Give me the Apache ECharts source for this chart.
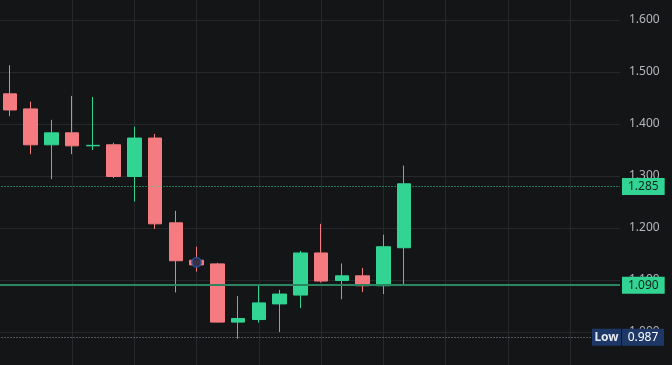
<!DOCTYPE html>
<html>
<head>
<meta charset="utf-8">
<style>
html,body{margin:0;padding:0;background:#141517;}
#c{width:672px;height:365px;}
</style>
<script src="https://cdn.jsdelivr.net/npm/echarts@6/dist/echarts.min.js"></script>
</head>
<body>
<div id="c"></div>
<script>
// Candle index positions
const indices = [0,1,2,3,4,5,6,7,8,9,10,11,12,13,14,15,16,17,18,19];
const opens  = [1.458,1.429,1.360,1.383,1.358,1.360,1.299,1.373,1.210,1.138,1.131,1.019,1.024,1.054,1.071,1.152,1.099,1.108,1.089,1.162];
const closes = [1.427,1.360,1.383,1.358,1.359,1.299,1.373,1.208,1.137,1.129,1.019,1.026,1.056,1.073,1.152,1.098,1.108,1.089,1.164,1.285];
const lows   = [1.415,1.342,1.294,1.342,1.350,1.296,1.251,1.198,1.076,1.116,1.018,0.987,1.018,1.000,1.046,1.095,1.063,1.077,1.073,1.092];
const highs  = [1.513,1.443,1.408,1.454,1.452,1.364,1.395,1.381,1.233,1.164,1.133,1.069,1.092,1.081,1.156,1.208,1.132,1.123,1.187,1.320];
const yTicks = [0.9,1.0,1.1,1.2,1.3,1.4,1.5,1.6,1.7];
const lastPrice = 1.285;
const refPrice = 1.090;
const lowPrice = 0.987;
const markerIndex = 9;
const markerValue = 1.134;

const GREEN = '#31d492';
const RED = '#f47b7f';
const GRIDC = '#26282c';

const candleData = indices.map((x, i) => [x, opens[i], closes[i], lows[i], highs[i]]);

const chart = echarts.init(document.getElementById('c'), null, {renderer: 'canvas'});
chart.setOption({
  backgroundColor: '#141517',
  animation: false,
  grid: [
    { left: -52.45, right: 52, top: -32, bottom: -19, containLabel: false, outerBoundsMode: 'none' },
    { left: 9.8, right: 52, top: -32, bottom: -19, containLabel: false, outerBoundsMode: 'none' }
  ],
  xAxis: [{
    type: 'value', gridIndex: 0,
    min: -3, max: 29.41,
    axisLine: {show: false}, axisTick: {show: false}, axisLabel: {show: false},
    splitLine: {show: false}
  }, {
    type: 'value', gridIndex: 1,
    min: 0, max: 29.41, interval: 3,
    axisLine: {show: false}, axisTick: {show: false}, axisLabel: {show: false},
    splitLine: {show: true, showMaxLine: false, showMinLine: false, lineStyle: {color: GRIDC, width: 1}}
  }],
  yAxis: [{
    type: 'value', gridIndex: 0,
    position: 'right',
    min: yTicks[0], max: yTicks[yTicks.length - 1], interval: 0.1,
    axisLine: {show: false}, axisTick: {show: false},
    axisLabel: {
      margin: 9, color: '#b4b7be', fontSize: 12, fontFamily: 'Noto Sans',
      formatter: v => v.toFixed(3)
    },
    splitLine: {show: true, lineStyle: {color: GRIDC, width: 1}}
  }, {
    type: 'value', gridIndex: 1,
    min: yTicks[0], max: yTicks[yTicks.length - 1],
    axisLine: {show: false}, axisTick: {show: false}, axisLabel: {show: false},
    splitLine: {show: false}
  }],
  series: [{
    type: 'candlestick',
    xAxisIndex: 0, yAxisIndex: 0,
    data: candleData,
    barWidth: 14,
    itemStyle: {
      color: GREEN, color0: RED, borderColor: GREEN, borderColor0: RED, borderWidth: 1
    },
    markLine: {
      silent: true,
      symbol: ['none', 'none'],
      animation: false,
      data: [
        {
          yAxis: lastPrice,
          lineStyle: {type: [1, 2], color: GREEN, width: 1},
          label: {
            position: 'end', distance: 2, formatter: lastPrice.toFixed(3),
            backgroundColor: GREEN, color: '#0e2119', padding: [3, 6, 2, 6],
            fontSize: 12, fontFamily: 'Noto Sans'
          }
        },
        {
          yAxis: refPrice,
          lineStyle: {type: 'solid', color: '#2a8560', width: 2},
          label: {
            position: 'end', distance: 2, formatter: refPrice.toFixed(3),
            backgroundColor: GREEN, color: '#0e2119', padding: [3, 6, 2, 6],
            fontSize: 12, fontFamily: 'Noto Sans'
          }
        },
        {
          yAxis: lowPrice,
          lineStyle: {type: [1, 2], color: '#8a8f98', width: 1},
          label: {
            position: 'end', distance: -28,
            formatter: '{l|Low}{s|}{v|' + lowPrice.toFixed(3) + '}',
            rich: {
              l: {width: 29, height: 17, lineHeight: 17, align: 'center', backgroundColor: '#1d3766', color: '#e4e8ef', fontSize: 12, fontWeight: 'bold', fontFamily: 'Noto Sans'},
              s: {width: 1, height: 17, backgroundColor: '#141517'},
              v: {width: 42, height: 17, lineHeight: 17, align: 'center', backgroundColor: '#1d3766', color: '#ffffff', fontSize: 12, fontFamily: 'Noto Sans'}
            }
          }
        }
      ]
    }
  }, {
    type: 'scatter',
    xAxisIndex: 0, yAxisIndex: 0,
    data: [[markerIndex, markerValue]],
    symbol: 'circle',
    symbolSize: 9,
    z: 5,
    itemStyle: {color: '#121c2e', borderColor: '#24529e', borderWidth: 2}
  }]
});
</script>
</body>
</html>
